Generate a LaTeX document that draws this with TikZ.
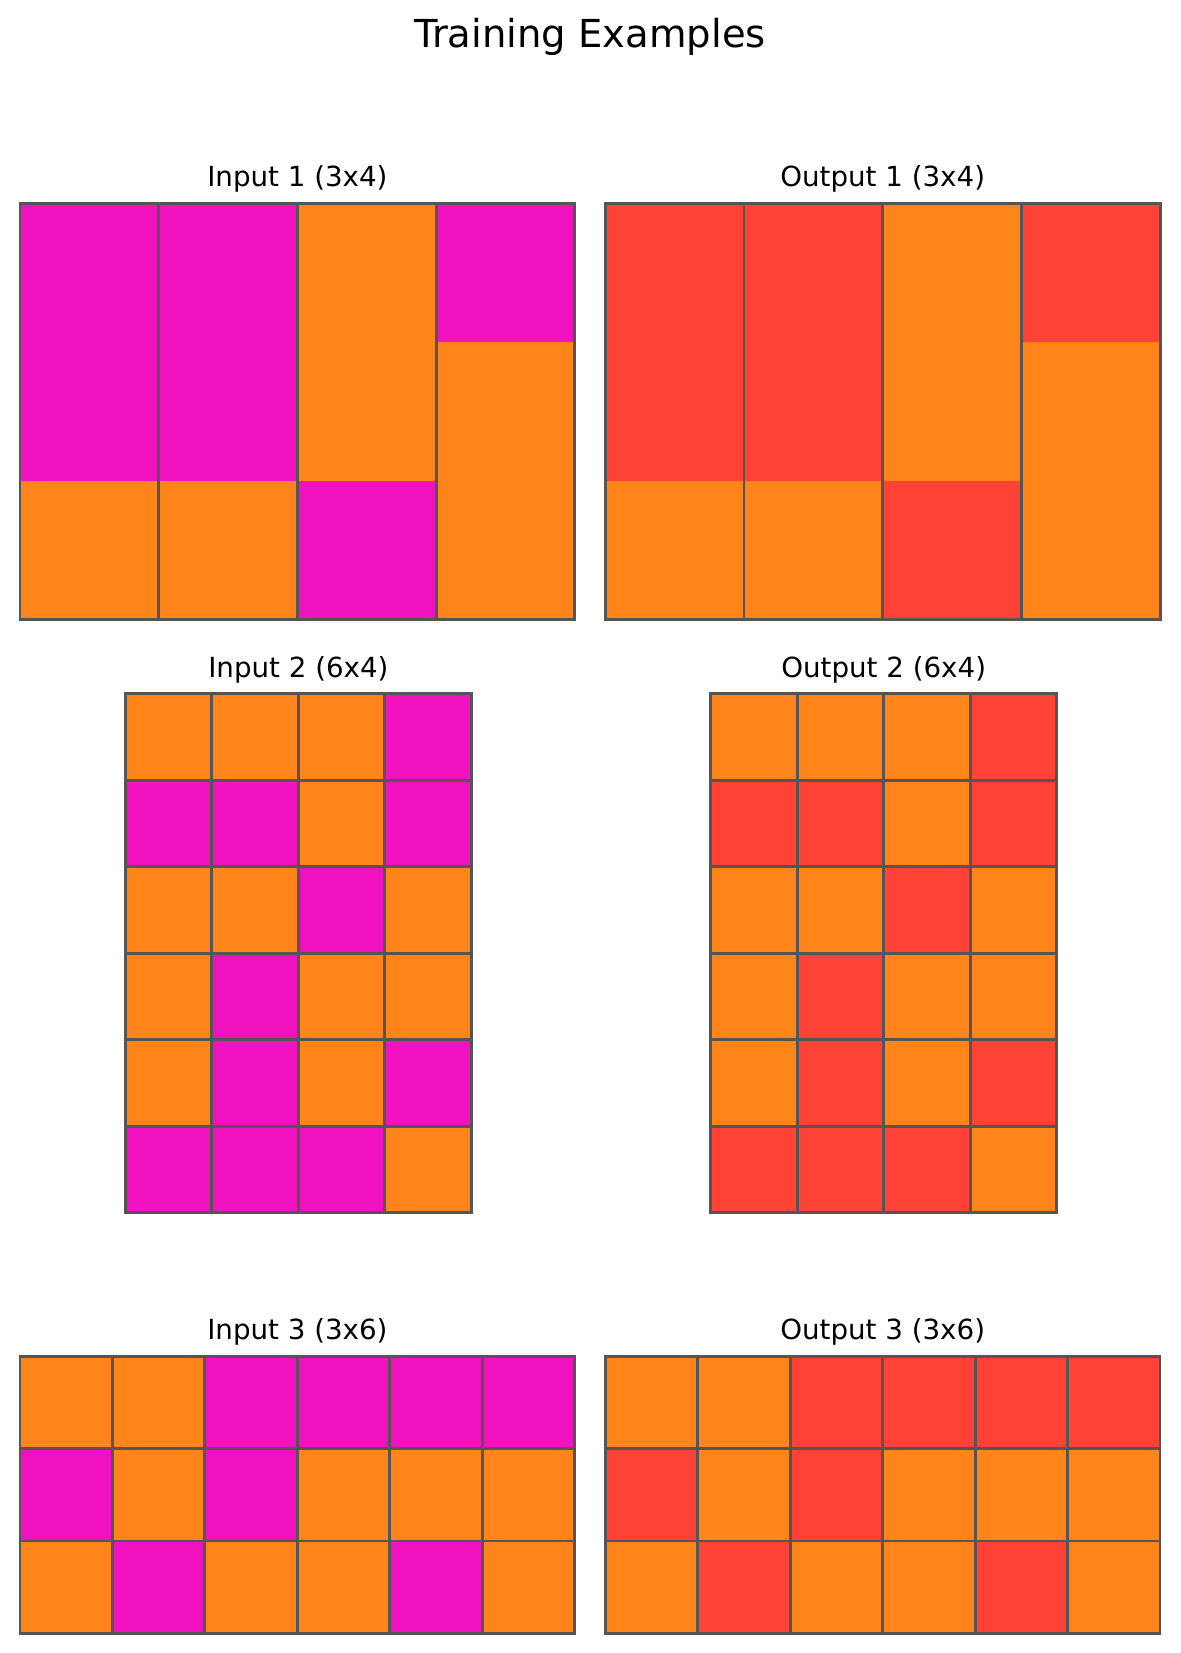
\documentclass[tikz,border=0pt]{standalone}
\usepackage{fontspec}
\setmainfont{DejaVu Sans}
\definecolor{M}{HTML}{F012BE}
\definecolor{O}{HTML}{FF851B}
\definecolor{R}{HTML}{FF4136}
\definecolor{edgegray}{HTML}{555555}

% cells of one grid: left, top, cell size, rows of colours
\newcommand{\cellfill}[4]{%
  \foreach \line [count=\r from 0] in {#4} {
    \foreach \c [count=\k from 0] in \line {
      \fill[\c] (#1+\k*#3,#2+\r*#3) rectangle ++(#3,#3);
    }
  }
}
\newcommand{\celldraw}[4]{%
  \foreach \line [count=\r from 0] in {#4} {
    \foreach \c [count=\k from 0] in \line {
      \filldraw[fill=\c,gridline] (#1+\k*#3,#2+\r*#3) rectangle ++(#3,#3);
    }
  }
}

\begin{document}
\begin{tikzpicture}[x=0.48pt,y=-0.48pt,
gridline/.style={draw=edgegray,line width=1.4pt,line join=miter},
suptitle/.style={font=\fontsize{18.5}{22}\selectfont,anchor=base},
gridtitle/.style={font=\fontsize{13.3}{16}\selectfont,anchor=base}]
\useasboundingbox (0,0) rectangle (1180,1653);
\node[suptitle] (title) at (590,47) {Training Examples};

% example 1
\cellfill{20}{203.5}{138.7}{{M,M,O,M},{M,M,O,O},{O,O,M,O}}
\foreach \k in {1,2,3} \draw[gridline] (20+\k*138.7,203.5) -- ++(0,416.1);
\draw[gridline] (20,203.5) rectangle ++(554.8,416.1);
\node[gridtitle] (in1) at (297.4,186.5) {Input 1 (3x4)};
\cellfill{605.3}{203.5}{138.7}{{R,R,O,R},{R,R,O,O},{O,O,R,O}}
\foreach \k in {1,2,3} \draw[gridline] (605.3+\k*138.7,203.5) -- ++(0,416.1);
\draw[gridline] (605.3,203.5) rectangle ++(554.8,416.1);
\node[gridtitle] (out1) at (882.7,186.5) {Output 1 (3x4)};

% example 2
\celldraw{125.5}{693.9}{86.45}{{O,O,O,M},{M,M,O,M},{O,O,M,O},{O,M,O,O},{O,M,O,M},{M,M,M,O}}
\node[gridtitle] (in2) at (298.4,677) {Input 2 (6x4)};
\celldraw{710.8}{693.9}{86.45}{{O,O,O,R},{R,R,O,R},{O,O,R,O},{O,R,O,O},{O,R,O,R},{R,R,R,O}}
\node[gridtitle] (out2) at (883.7,677) {Output 2 (6x4)};

% example 3
\celldraw{20}{1356.1}{92.45}{{O,O,M,M,M,M},{M,O,M,O,O,O},{O,M,O,O,M,O}}
\node[gridtitle] (in3) at (297.4,1339) {Input 3 (3x6)};
\celldraw{605.3}{1356.1}{92.45}{{O,O,R,R,R,R},{R,O,R,O,O,O},{O,R,O,O,R,O}}
\node[gridtitle] (out3) at (882.7,1339) {Output 3 (3x6)};
\end{tikzpicture}
\end{document}
